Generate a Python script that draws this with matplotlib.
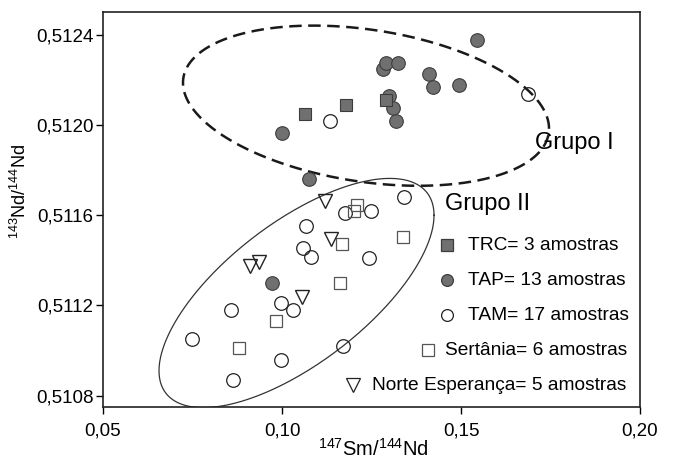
import numpy as np
import matplotlib
matplotlib.use("Agg")
import matplotlib.pyplot as plt

plt.rcParams["font.family"] = ["Liberation Sans", "DejaVu Sans"]
plt.rcParams["mathtext.default"] = "regular"

# 147Sm/144Nd x 143Nd/144Nd por unidade
trc_x = [0.1064, 0.1179, 0.1291]
trc_y = [0.512050, 0.512090, 0.512112]

tap_x = [0.1000, 0.1076, 0.1282, 0.1291, 0.1324, 0.1545, 0.1411,
         0.1422, 0.1494, 0.1299, 0.1310, 0.1318, 0.0971]
tap_y = [0.511966, 0.511758, 0.512249, 0.512275, 0.512275, 0.512377, 0.512226,
         0.512169, 0.512178, 0.512129, 0.512076, 0.512019, 0.511300]

tam_x = [0.1134, 0.1687, 0.1341, 0.1176, 0.1248, 0.1067, 0.1059, 0.1080,
         0.1243, 0.1170, 0.0857, 0.0997, 0.1030, 0.0749, 0.0997, 0.0863]
tam_y = [0.512019, 0.512138, 0.511679, 0.511608, 0.511618, 0.511551, 0.511454, 0.511414,
         0.511409, 0.511022, 0.511180, 0.511211, 0.511180, 0.511052, 0.510959, 0.510871]

sert_x = [0.1209, 0.1201, 0.1167, 0.1338, 0.1162, 0.0983, 0.0880]
sert_y = [0.511644, 0.511618, 0.511471, 0.511502, 0.511300, 0.511131, 0.511012]

norte_x = [0.1120, 0.1136, 0.0911, 0.0936, 0.1055]
norte_y = [0.511663, 0.511493, 0.511374, 0.511393, 0.511237]

xticks = [0.05, 0.10, 0.15, 0.20]
yticks = [0.5108, 0.5112, 0.5116, 0.5120, 0.5124]

# elipses: centro e dois semi-diametros conjugados (unidades dos eixos)
g1_centro = (0.12346, 0.512085)
g1_u = (0.05112, -0.0001016)
g1_v = (0.0, 0.000340)
g2_centro = (0.10405, 0.511255)
g2_u = (0.03841, 0.0003444)
g2_v = (0.0, 0.0003732)

cinza = "#707070"
borda = "#3c3c3c"

fig = plt.figure(figsize=(6.75, 4.66), dpi=100)
ax = fig.add_axes([0.1526, 0.1266, 0.7956, 0.8476])


def elipse(c, u, v, **kw):
    t = np.linspace(0, 2 * np.pi, 400)
    ex = c[0] + u[0] * np.cos(t) + v[0] * np.sin(t)
    ey = c[1] + u[1] * np.cos(t) + v[1] * np.sin(t)
    ax.plot(ex, ey, **kw)


elipse(g1_centro, g1_u, g1_v, color="#1a1a1a", lw=1.8, ls=(0, (5, 2.6)), zorder=1)
elipse(g2_centro, g2_u, g2_v, color="#333333", lw=0.9, zorder=1)

ms = 9.8
ax.plot(tam_x, tam_y, "o", ms=ms, mfc="none", mec="#222222", mew=0.9, zorder=3)
ax.plot(sert_x, sert_y, "s", ms=8.5, mfc="none", mec="#555555", mew=0.9, zorder=3)
ax.plot(norte_x, norte_y, "v", ms=10, mfc="none", mec="#222222", mew=1.0, zorder=3)
ax.plot(tap_x, tap_y, "o", ms=ms, mfc=cinza, mec=borda, mew=0.8, zorder=4)
ax.plot(trc_x, trc_y, "s", ms=8.5, mfc=cinza, mec=borda, mew=0.8, zorder=4)

ax.set_xlim(0.05, 0.20)
ax.set_ylim(0.51075, 0.5125)
ax.set_xticks(xticks)
ax.set_xticklabels([f"{v:.2f}".replace(".", ",") for v in xticks])
ax.set_yticks(yticks)
ax.set_yticklabels([f"{v:.4f}".replace(".", ",") for v in yticks])
ax.tick_params(direction="out", length=5, width=1, labelsize=13.5, pad=2)
ax.tick_params(axis="x", pad=6)
for s in ax.spines.values():
    s.set_linewidth(1.2)
    s.set_color("#222222")

# titulos dos eixos
fig.text(373 / 675, 1 - 449 / 466, r"$^{147}$Sm/$^{144}$Nd", fontsize=14.5,
         ha="center", va="center")
fig.text(20 / 675, 1 - 191 / 466, r"$^{143}$Nd/$^{144}$Nd", fontsize=13,
         rotation=90, ha="center", va="center")

# rotulos dos grupos
ax.text(0.8045, 0.6684, "Grupo I", transform=ax.transAxes, fontsize=17, va="center")
ax.text(0.6369, 0.5139, "Grupo II", transform=ax.transAxes, fontsize=17, va="center")

# legenda desenhada a mao
leg = [
    (0.6406, 0.4101, 0.6797, "s", dict(mfc=cinza, mec=borda), "TRC= 3 amostras"),
    (0.6406, 0.3215, 0.6797, "o", dict(mfc=cinza, mec=borda), "TAP= 13 amostras"),
    (0.6406, 0.2329, 0.6797, "o", dict(mfc="none", mec="#222222"), "TAM= 17 amostras"),
    (0.6052, 0.1443, 0.6369, "s", dict(mfc="none", mec="#555555"), "Sertânia= 6 amostras"),
    (0.4655, 0.0557, 0.5009, "v", dict(mfc="none", mec="#222222"), "Norte Esperança= 5 amostras"),
]
for mx, my, tx, mk, st, txt in leg:
    ax.plot([mx], [my], mk, ms=8.5 if mk != "v" else 10, mew=0.9,
            transform=ax.transAxes, clip_on=False, **st)
    ax.text(tx, my, txt, transform=ax.transAxes, fontsize=13.8, va="center")

fig.savefig("out.png", dpi=100)
